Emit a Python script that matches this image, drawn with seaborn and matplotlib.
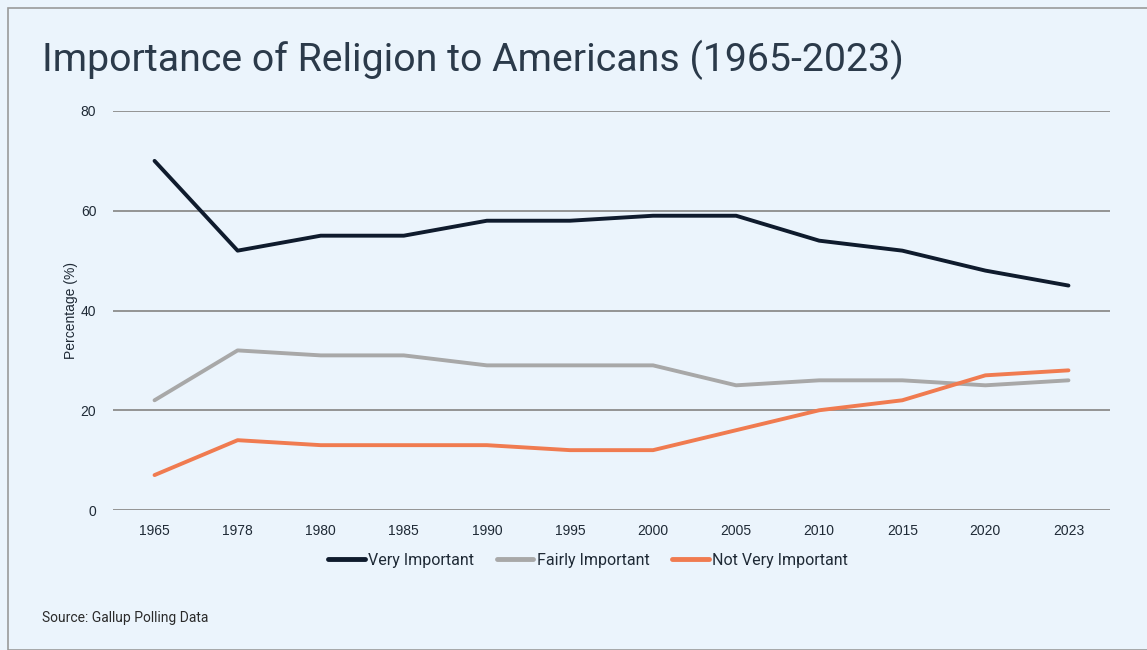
import matplotlib
matplotlib.use("Agg")
import matplotlib.pyplot as plt
import seaborn as sns
import pandas as pd
from matplotlib.patches import Rectangle

years = ["1965", "1978", "1980", "1985", "1990", "1995", "2000", "2005", "2010", "2015", "2020", "2023"]
very_important = [70, 52, 55, 55, 58, 58, 59, 59, 54, 52, 48, 45]
fairly_important = [22, 32, 31, 31, 29, 29, 29, 25, 26, 26, 25, 26]
not_very_important = [7, 14, 13, 13, 13, 12, 12, 16, 20, 22, 27, 28]
y_ticks = [0, 20, 40, 60, 80]
series_names = ["Very Important", "Fairly Important", "Not Very Important"]
colors = ["#0F1B2D", "#A8A8A8", "#F07B50"]

sns.set_theme(style="white")
plt.rcParams['font.family'] = ['Roboto', 'DejaVu Sans']
tick_font = ['Liberation Sans', 'DejaVu Sans']

rows = []
for name, vals in zip(series_names, [very_important, fairly_important, not_very_important]):
    for i, (y, v) in enumerate(zip(years, vals)):
        rows.append({"pos": i, "year": y, "value": v, "series": name})
df = pd.DataFrame(rows)

bg = "#EBF4FC"
fig = plt.figure(figsize=(11.47, 6.5), dpi=100, facecolor=bg)
ax = fig.add_axes([113/1147, 1-510/650, (1110-113)/1147, (510-111)/650])
ax.set_facecolor(bg)

sns.lineplot(data=df, x="pos", y="value", hue="series", hue_order=series_names,
             palette=colors, linewidth=2.8, ax=ax, legend=False)

ax.set_xlim(-0.5, len(years) - 0.5)
ax.set_ylim(0, 80)
ax.tick_params(axis="both", length=0, labelsize=10, colors="#1F2A36")
ax.tick_params(axis="x", pad=10)
ax.tick_params(axis="y", pad=12)
ax.set_xticks(range(len(years)))
ax.set_xticklabels(years, fontfamily=tick_font, fontsize=10)
ax.set_yticks(y_ticks)
ax.set_yticklabels([str(t) for t in y_ticks], fontfamily=tick_font, fontsize=10)
for s in ax.spines.values():
    s.set_visible(False)
ax.grid(False)
for yv in y_ticks:
    ax.axhline(yv, color="#8C8C8C", linewidth=1.3, zorder=0)
ax.set_xlabel("")
ax.set_ylabel("Percentage (%)", fontsize=10, color="#1F2A36", labelpad=2,
              family=tick_font)

handles = [plt.Line2D([0], [0], color=c, linewidth=3.5) for c in colors]
fig.legend(handles, series_names, loc="center", bbox_to_anchor=(588/1147, 1-560/650),
           ncol=3, frameon=False, fontsize=11.5, handlelength=2.3, handletextpad=0.2,
           columnspacing=1.4, labelcolor="#1F2A36")

fig.text(42/1147, 1-60/650, "Importance of Religion to Americans (1965-2023)",
         fontsize=28.3, color="#2B3A4A", va="center", ha="left")
fig.text(42/1147, 1-618/650, "Source: Gallup Polling Data", fontsize=10,
         color="#2B2B2B", va="center", ha="left")

fig.patches.append(Rectangle((8/1147, 0), 1.2, 1 - 8/650, transform=fig.transFigure,
                             fill=False, edgecolor="#9A9A9A", linewidth=1.2))

fig.savefig("out.png", dpi=100, facecolor=bg)
